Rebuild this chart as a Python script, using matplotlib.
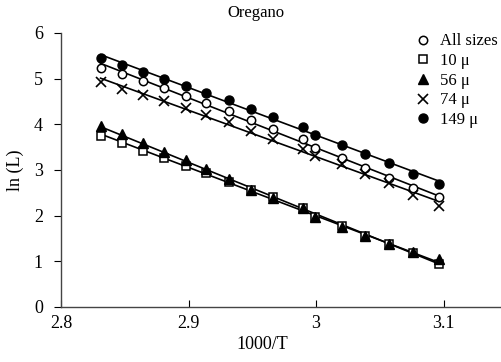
import numpy as np
import matplotlib
matplotlib.use('Agg')
import matplotlib.pyplot as plt

plt.rcParams['font.family'] = ['Liberation Serif', 'DejaVu Serif']

# 1000/T values
inv_t = [2.831, 2.848, 2.864, 2.881, 2.898, 2.914, 2.932, 2.949, 2.966,
         2.990, 2.999, 3.020, 3.038, 3.057, 3.076, 3.096]

# ln(L) for each particle size
all_sizes = [5.24, 5.10, 4.95, 4.80, 4.63, 4.47, 4.28, 4.10, 3.90, 3.67, 3.48, 3.26, 3.04, 2.83, 2.61, 2.40]
size_10 = [3.74, 3.59, 3.42, 3.26, 3.09, 2.93, 2.73, 2.56, 2.40, 2.17, 1.97, 1.78, 1.56, 1.38, 1.19, 0.95]
size_56 = [3.96, 3.78, 3.58, 3.40, 3.21, 3.02, 2.80, 2.57, 2.38, 2.17, 1.98, 1.76, 1.55, 1.37, 1.20, 1.06]
size_74 = [4.93, 4.77, 4.64, 4.51, 4.36, 4.20, 4.04, 3.86, 3.67, 3.45, 3.30, 3.12, 2.92, 2.71, 2.46, 2.22]
size_149 = [5.45, 5.30, 5.15, 5.00, 4.84, 4.69, 4.53, 4.34, 4.16, 3.95, 3.77, 3.55, 3.36, 3.15, 2.92, 2.70]

labels = ['All sizes', '10 \u03bc', '56 \u03bc', '74 \u03bc', '149 \u03bc']
series = [all_sizes, size_10, size_56, size_74, size_149]
markers = [dict(marker='o', mfc='white', ms=6, mew=1.1),
           dict(marker='s', mfc='white', ms=5.5, mew=1.1),
           dict(marker='^', mfc='black', ms=6.5),
           dict(marker='x', mfc='black', ms=6.5, mew=1.2),
           dict(marker='o', mfc='black', ms=6.5)]

fig = plt.figure(figsize=(5.01, 3.62), dpi=100)
ax = fig.add_axes([0.1218, 0.152, 0.8782, 0.757])

x = np.array(inv_t)
for y, lab, m in zip(series, labels, markers):
    y = np.array(y)
    # fitted straight line through each set
    k, b = np.polyfit(x, y, 1)
    ax.plot(x, k * x + b, color='black', lw=1.2, zorder=2)
    ax.plot(x, y, ls='none', color='black', mec='black', label=lab, zorder=3, **m)

ax.set_xlim(2.8, 3.145)
ax.set_ylim(0, 6)
ax.set_xticks([2.8, 2.9, 3.0, 3.1])
ax.set_xticklabels(['2.8', '2.9', '3', '3.1'])
ax.set_yticks(range(7))

for s in ['top', 'right']:
    ax.spines[s].set_visible(False)
for s in ['left', 'bottom']:
    ax.spines[s].set_color('#444444')
    ax.spines[s].set_linewidth(1.0)

ax.tick_params(axis='x', direction='in', length=5, labelsize=13, pad=6)
ax.tick_params(axis='y', direction='out', length=5, labelsize=13, pad=8)

ax.set_xlabel('1000/T', fontsize=13)
ax.xaxis.set_label_coords((262 - 61) / 440, -0.105)
ax.set_ylabel('ln (L)', fontsize=13)
ax.yaxis.set_label_coords(-0.085, 0.5)

fig.text(0.51, 0.965, 'Oregano', ha='center', va='center', fontsize=12)

ax.legend(loc='upper right', bbox_to_anchor=(1.015, 1.035), frameon=False,
          fontsize=12, handlelength=0.8, handletextpad=0.6, labelspacing=0.22,
          borderaxespad=0.2)

fig.savefig('out.png', dpi=100)
